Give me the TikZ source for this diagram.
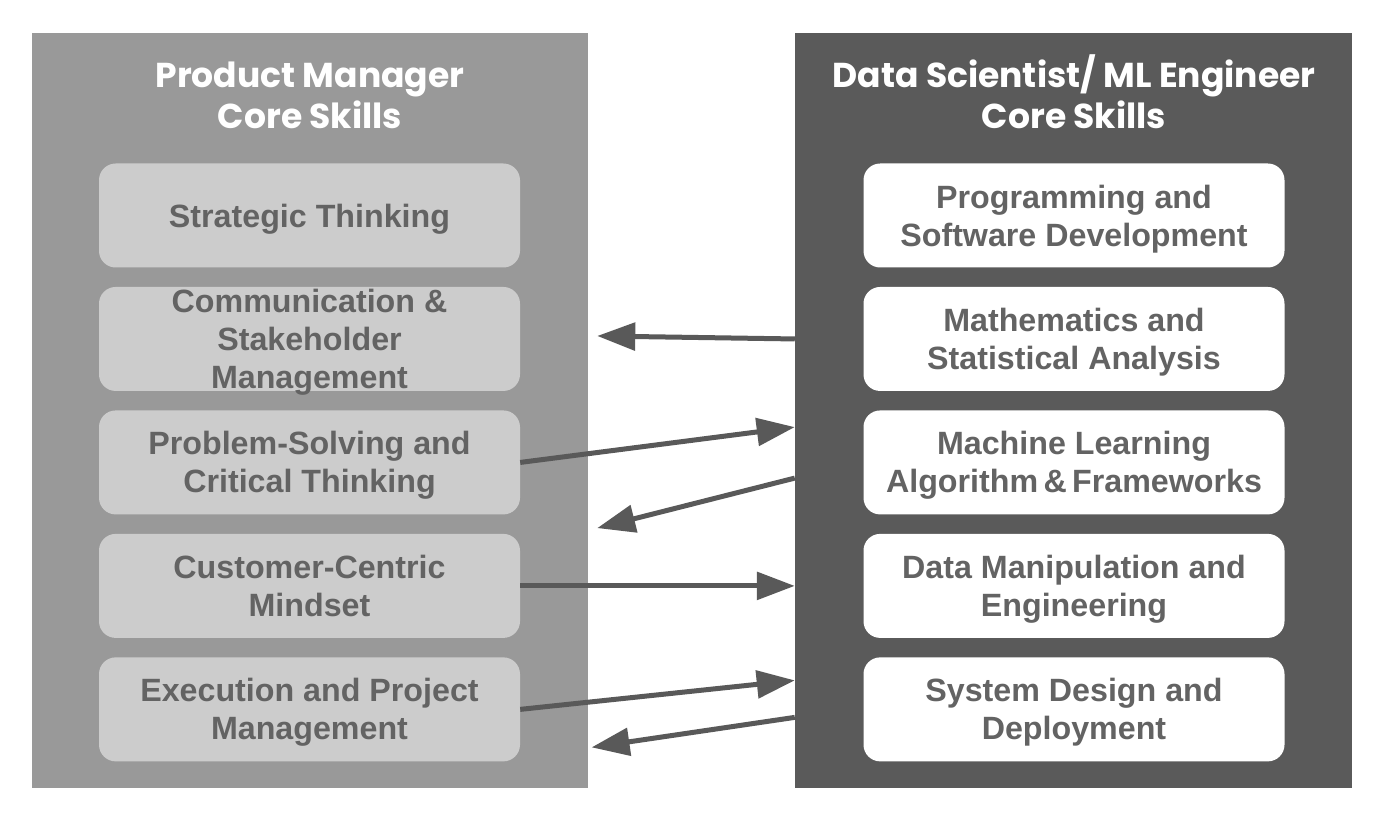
\documentclass[tikz,border=0pt]{standalone}
\usepackage{fontspec}
\setmainfont{Liberation Sans}
\newfontfamily\titlefont{Poppins}
\usetikzlibrary{arrows.meta,calc,positioning}
\definecolor{pmpanel}{HTML}{999999}
\definecolor{dspanel}{HTML}{5A5A5A}
\definecolor{pmskill}{HTML}{CCCCCC}
\definecolor{inkgray}{HTML}{595959}
\definecolor{textgray}{HTML}{636363}
\tikzset{link/.style={draw=inkgray, line width=0.15cm, -{Triangle[length=1.14cm, width=0.82cm]}},
  panel/.style={minimum width=16.68cm, minimum height=22.65cm, inner sep=0pt},
  skill/.style={fill=pmskill, rounded corners=0.5cm, minimum width=12.63cm, minimum height=3.12cm,
    inner sep=0pt, align=center, text=textgray, text height=19.7pt, text depth=0pt,
    font=\fontsize{27.5}{32.4}\selectfont\bfseries},
  twolines/.style={text height=52.1pt},
  threelines/.style={text height=84.5pt},
  head/.style={anchor=base, align=center, text=white, font=\titlefont\fontsize{29.5}{35.7}\selectfont\bfseries}}

\begin{document}
\begin{tikzpicture}
  \useasboundingbox (0,0) rectangle (41.58,24.9);
  \node[panel, fill=pmpanel] (pm) at (9.30,12.585) {};
  \node[panel, fill=dspanel, minimum width=16.71cm] (ds) at (32.205,12.585) {};
  \node[head] (pmt) at (9.30,21.03) {Product Manager\\Core Skills};
  \node[head] (dst) at (32.22,21.03) {Data Scientist/ ML Engineer\\Core Skills};
  % product manager skills
  \node[skill] (st) at (9.285,18.435) {Strategic Thinking};
  \node[skill, threelines, below=0.57cm of st] (com) {Communication \&\\Stakeholder\\Management};
  \node[skill, twolines, below=0.57cm of com] (ps) {Problem-Solving and\\Critical Thinking};
  \node[skill, twolines, below=0.57cm of ps] (cc) {Customer-Centric\\Mindset};
  \node[skill, twolines, below=0.57cm of cc] (ex) {Execution and Project\\Management};
  % data scientist skills
  \node[skill, twolines, fill=white] (prg) at (32.22,18.435) {Programming and\\Software Development};
  \node[skill, twolines, fill=white, below=0.57cm of prg] (mth) {Mathematics and\\Statistical Analysis};
  \node[skill, twolines, fill=white, below=0.57cm of mth] (ml) {Machine Learning\\Algorithm\,\&\,Frameworks};
  \node[skill, twolines, fill=white, below=0.57cm of ml] (dm) {Data Manipulation and\\Engineering};
  \node[skill, twolines, fill=white, below=0.57cm of dm] (sd) {System Design and\\Deployment};
  % free ends of the links
  \coordinate (a1) at ($(pm.east |- mth.west)+(0.27,0.09)$);
  \coordinate (b2) at ($(ds.west |- ml.west)+(0,1.06)$);
  \coordinate (b3) at ($(ds.west |- ml.west)+(0,-0.47)$);
  \coordinate (a3) at ($(pm.east |- ml.west)+(0.27,-1.97)$);
  \coordinate (b5) at ($(ds.west |- sd.west)+(0,0.87)$);
  \coordinate (b6) at ($(ds.west |- sd.west)+(0,-0.24)$);
  \coordinate (a6) at ($(pm.east |- sd.west)+(0.1,-1.14)$);
  % links
  \draw[link] (ds.west |- mth.west) -- (a1);
  \draw[link] (ps.east) -- (b2);
  \draw[link] (b3) -- (a3);
  \draw[link] (cc.east) -- (ds.west |- cc.east);
  \draw[link] (ex.east) -- (b5);
  \draw[link] (b6) -- (a6);
\end{tikzpicture}
\end{document}
